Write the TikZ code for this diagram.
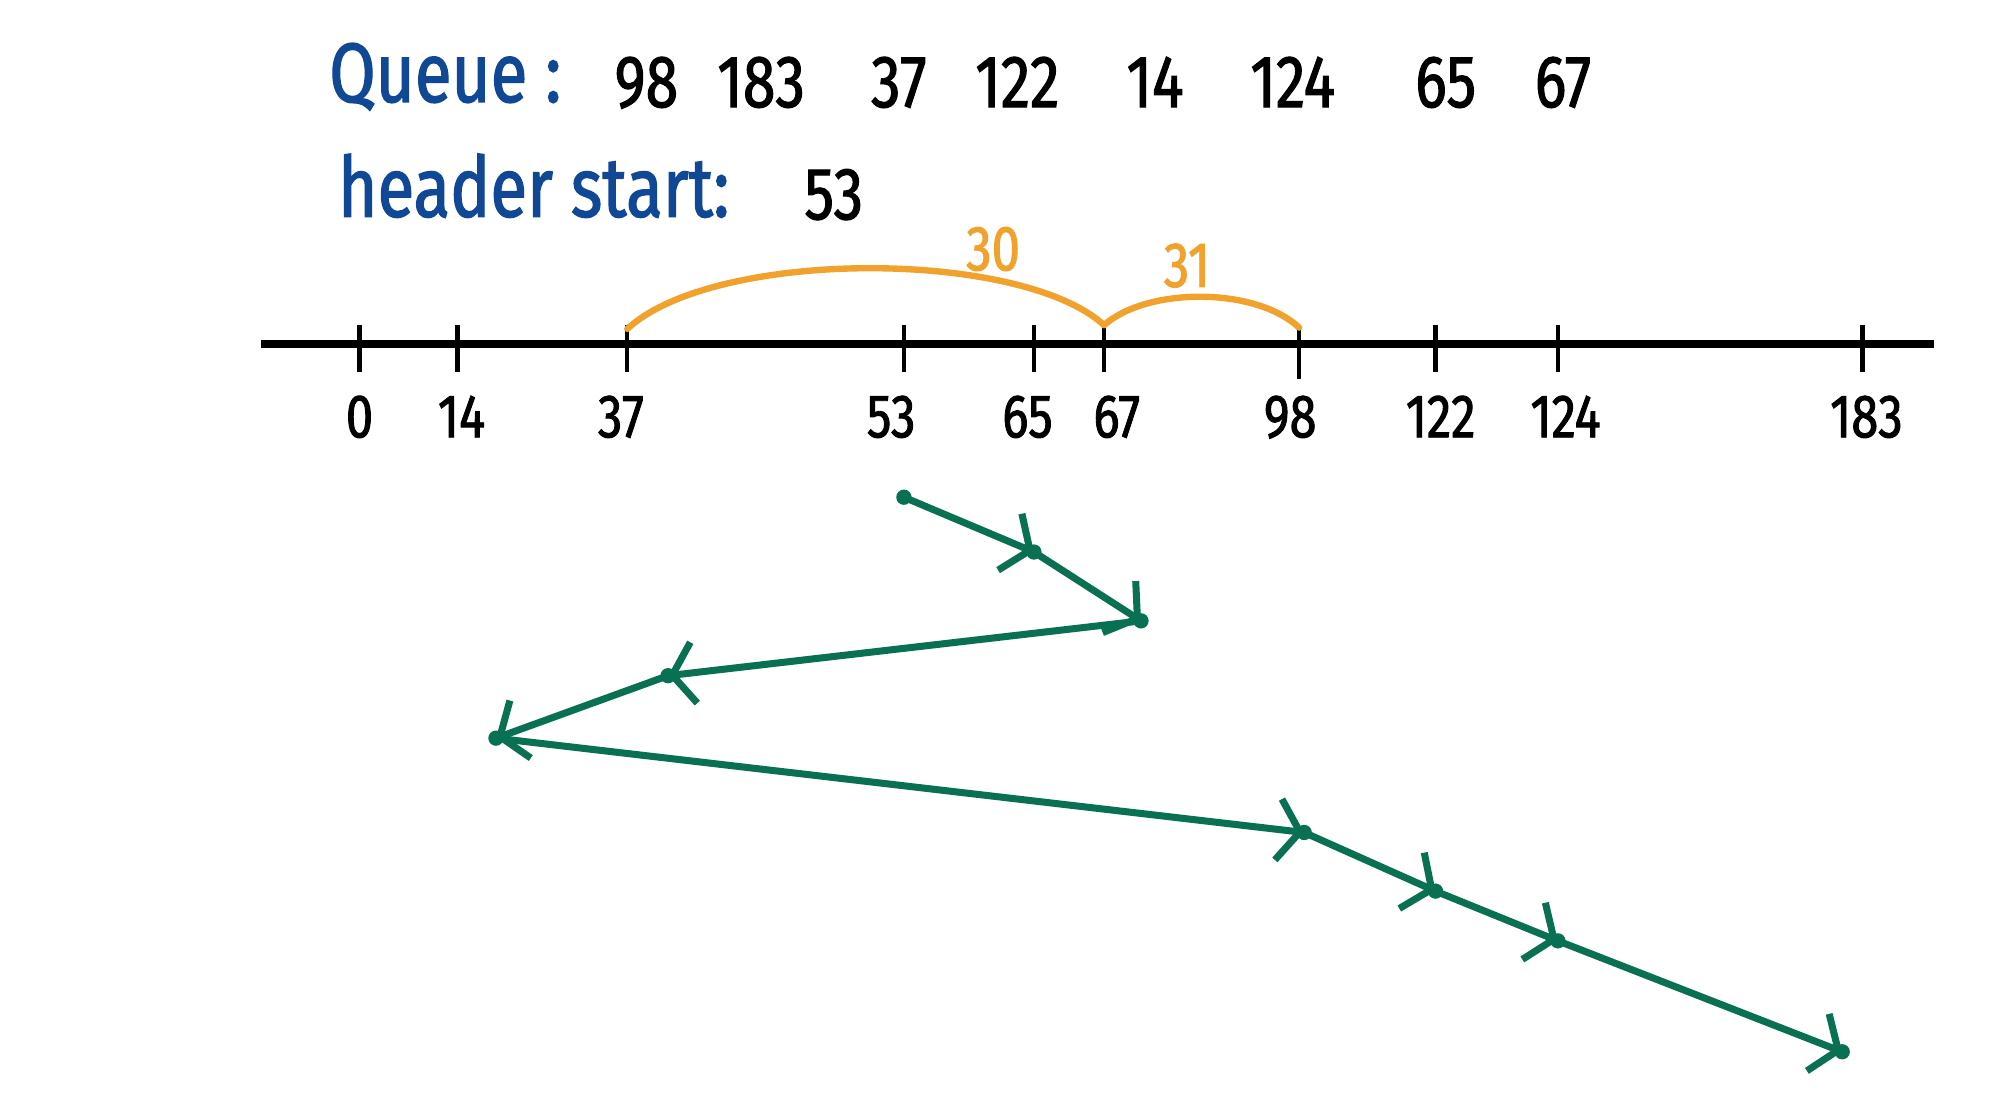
\documentclass[tikz,border=0pt]{standalone}
\usepackage{fontspec}
\setmainfont{Fira Sans}[FakeStretch=0.8,FakeBold=1.5]
\usetikzlibrary{arrows.meta}
\definecolor{qblue}{RGB}{16,72,150}
\definecolor{arcorange}{RGB}{240,162,45}
\definecolor{pathgreen}{RGB}{10,112,84}
\begin{document}
\begin{tikzpicture}[x=1pt,y=-1pt,
  axislabel/.style={font=\fontsize{48}{50}\selectfont, anchor=base, inner sep=0pt},
  queuenum/.style={font=\fontsize{58}{60}\selectfont, anchor=base, inner sep=0pt},
  bluelabel/.style={text=qblue, font=\fontsize{66}{70}\selectfont, anchor=base west, inner sep=0pt},
  arclabel/.style={text=arcorange, font=\fontsize{50}{52}\selectfont, anchor=base, inner sep=0pt},
  ticksty/.style={line width=3.5pt},
  arcsty/.style={arcorange, line width=5pt, line cap=round},
  seek/.style={pathgreen, line width=5.5pt, line cap=round, line join=round,
               -{Straight Barb[length=17pt,width=48pt]}},
  gdot/.style={fill=pathgreen}]
\useasboundingbox (0,0) rectangle (1568,875);
\fill[white] (0,0) rectangle (1568,875);

% header text
\node[bluelabel] (qlab) at (258,80) {Queue :};
\node[queuenum] (q1) at (507,84) {98};
\node[queuenum] (q2) at (597,84) {183};
\node[queuenum] (q3) at (705,84) {37};
\node[queuenum] (q4) at (798,84) {122};
\node[queuenum] (q5) at (906,84) {14};
\node[queuenum] (q6) at (1014,84) {124};
\node[queuenum] (q7) at (1134,84) {65};
\node[queuenum] (q8) at (1226,84) {67};
\node[bluelabel] (hlab) at (265,170) {header start:};
\node[queuenum] (hval) at (654,172) {53};

% axis
\coordinate (axL) at (205,270);
\coordinate (axR) at (1517,270);
\draw[line width=6pt] (axL) -- (axR);
\foreach \n/\x in {0/282,14/359,37/492,53/709,65/811,67/866,122/1126,124/1222,183/1461}{
  \coordinate (t\n) at (\x,270);
  \draw[ticksty] ([yshift=15pt]t\n) -- ([yshift=-22pt]t\n);
}
\coordinate (t98) at (1019,270);
\draw[ticksty] ([yshift=15pt]t98) -- ([yshift=-27pt]t98);

\foreach \n/\x in {0/282,14/362,37/487,53/699,65/806,67/876,98/1012,122/1130,124/1228,183/1464}{
  \node[axislabel] (l\n) at (\x,343) {\n};
}

% orange arcs
\draw[arcsty] ([yshift=12pt]t37) .. controls (560,195) and (800,195) .. ([yshift=15pt]t67);
\draw[arcsty] ([yshift=15pt]t67) .. controls (900,225) and (985,225) .. ([yshift=13pt]t98);
\node[arclabel] (a30) at (779,212) {30};
\node[arclabel] (a31) at (931,225) {31};

% seek path
\coordinate (g53) at (709,390);
\coordinate (g65) at (811,433);
\coordinate (g67) at (895,487);
\coordinate (g37) at (524,530);
\coordinate (g14) at (389,579);
\coordinate (g98) at (1023,653);
\coordinate (g122) at (1126,699);
\coordinate (g124) at (1222,738);
\coordinate (g183) at (1445,825);
\draw[seek] (g53) -- (g65);
\draw[seek] (g65) -- (g67);
\draw[seek] (g67) -- (g37);
\draw[seek] (g37) -- (g14);
\draw[seek] (g14) -- (g98);
\draw[seek] (g98) -- (g122);
\draw[seek] (g122) -- (g124);
\draw[seek] (g124) -- (g183);
\foreach \p in {g53,g65,g67,g37,g14,g98,g122,g124,g183}{
  \fill[gdot] (\p) circle (6pt);
}
\end{tikzpicture}
\end{document}
